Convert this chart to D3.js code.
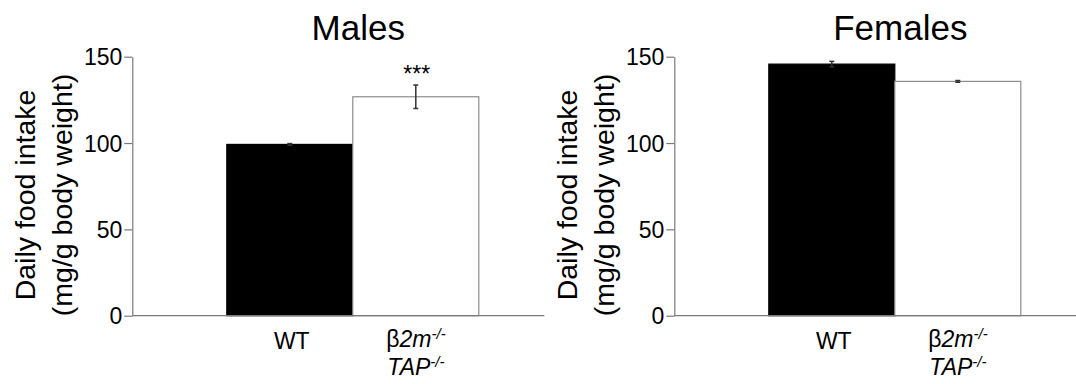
<!DOCTYPE html>
<html>
<head>
<meta charset="utf-8">
<script src="https://cdn.jsdelivr.net/npm/d3@7"></script>
<style>
  html, body { margin: 0; padding: 0; background: #fff; }
  svg { display: block; font-family: "Liberation Sans", Arial, sans-serif; }
</style>
</head>
<body>
<svg id="chart" width="1076" height="384"></svg>
<script>
// ---- data ----
const categories = ["WT", "KO"];
const panelTitles = ["Males", "Females"];
const maleMeans = [99.2, 126.8];
const maleErrors = [0.5, 6.8];
const femaleMeans = [145.7, 135.7];
const femaleErrors = [1.6, 0.5];
const maleSignificance = ["", "***"];
const femaleSignificance = ["", ""];
const yTicks = [0, 50, 100, 150];
const yLabelLines = ["Daily food intake", "(mg/g body weight)"];
const barFills = ["#000000", "#ffffff"];

const panels = [
  { title: panelTitles[0], means: maleMeans, errors: maleErrors, sig: maleSignificance, axisX: 132.3 },
  { title: panelTitles[1], means: femaleMeans, errors: femaleErrors, sig: femaleSignificance, axisX: 674.3 }
];

const svg = d3.select("#chart");
const yTop = 56.7, yBottom = 315.7;
const y = d3.scaleLinear().domain([0, 150]).range([yBottom, yTop]);
const x = d3.scaleBand().domain(categories).range([94.5, 346.5]).padding(0);
const axisLen = 412;

panels.forEach(p => {
  const g = svg.append("g").attr("transform", `translate(${p.axisX},0)`);

  // title
  g.append("text")
    .attr("x", 226).attr("y", 40)
    .attr("text-anchor", "middle")
    .attr("font-size", 35)
    .attr("fill", "#000")
    .text(p.title);

  // bars
  g.selectAll("rect.bar").data(categories).join("rect")
    .attr("class", "bar")
    .attr("x", d => x(d))
    .attr("width", x.bandwidth())
    .attr("y", (d, i) => y(p.means[i]))
    .attr("height", (d, i) => y(0) - y(p.means[i]))
    .attr("fill", (d, i) => barFills[i])
    .attr("stroke", (d, i) => i === 0 ? "#000" : "#8c8c8c")
    .attr("stroke-width", 1.2);

  // error bars (upper and lower)
  const eb = g.selectAll("g.err").data(categories).join("g").attr("class", "err");
  eb.append("line")
    .attr("x1", d => x(d) + x.bandwidth() / 2)
    .attr("x2", d => x(d) + x.bandwidth() / 2)
    .attr("y1", (d, i) => y(p.means[i] + p.errors[i]))
    .attr("y2", (d, i) => y(p.means[i] - p.errors[i]))
    .attr("stroke", "#333").attr("stroke-width", 1.5);
  [1, -1].forEach(s => {
    eb.append("line")
      .attr("x1", d => x(d) + x.bandwidth() / 2 - 2.5)
      .attr("x2", d => x(d) + x.bandwidth() / 2 + 2.5)
      .attr("y1", (d, i) => y(p.means[i] + s * p.errors[i]))
      .attr("y2", (d, i) => y(p.means[i] + s * p.errors[i]))
      .attr("stroke", "#333").attr("stroke-width", 1.5);
  });

  // significance
  g.selectAll("text.sig").data(categories).join("text")
    .attr("class", "sig")
    .attr("x", d => x(d) + x.bandwidth() / 2 + 1)
    .attr("y", (d, i) => y(p.means[i] + p.errors[i]) - 3)
    .attr("text-anchor", "middle")
    .attr("font-size", 23)
    .text((d, i) => p.sig[i]);

  // y axis
  const ya = g.append("g")
    .call(d3.axisLeft(y).tickValues(yTicks).tickSize(8).tickSizeOuter(0).tickPadding(2));
  ya.select(".domain").attr("stroke", "#7a7a7a").attr("stroke-width", 1.2);
  ya.selectAll(".tick line").attr("stroke", "#7a7a7a").attr("stroke-width", 1.2);
  ya.selectAll(".tick text").attr("font-size", 23).attr("fill", "#000")
    .attr("font-family", "Liberation Sans, Arial, sans-serif").attr("dy", "0.36em");

  // x axis baseline
  g.append("line")
    .attr("x1", 0).attr("x2", axisLen)
    .attr("y1", y(0)).attr("y2", y(0))
    .attr("stroke", "#7a7a7a").attr("stroke-width", 1.2);

  // x tick labels
  const wt = categories[0], ko = categories[1];
  g.append("text")
    .attr("x", x(wt) + x.bandwidth() / 2 + 2)
    .attr("y", 349)
    .attr("text-anchor", "middle")
    .attr("font-size", 23)
    .text("WT");

  const kx = x(ko) + x.bandwidth() / 2 - 29.5;
  const t1 = g.append("text").attr("x", kx).attr("y", 346.5).attr("font-size", 23);
  t1.append("tspan").text("β");
  t1.append("tspan").attr("font-style", "italic").text("2m");
  t1.append("tspan").attr("font-style", "italic").attr("font-size", 15).attr("dy", -8).text("-/-");
  const t2 = g.append("text").attr("x", kx + 1).attr("y", 375).attr("font-size", 23);
  t2.append("tspan").attr("font-style", "italic").text("TAP");
  t2.append("tspan").attr("font-style", "italic").attr("font-size", 15).attr("dy", -8).text("-/-");

  // y label
  const cy = 195;
  yLabelLines.forEach((line, i) => {
    g.append("text")
      .attr("transform", `translate(${-97 + i * 37},${cy}) rotate(-90)`)
      .attr("text-anchor", "middle")
      .attr("font-size", 28.5)
      .text(line);
  });
});
</script>
</body>
</html>
